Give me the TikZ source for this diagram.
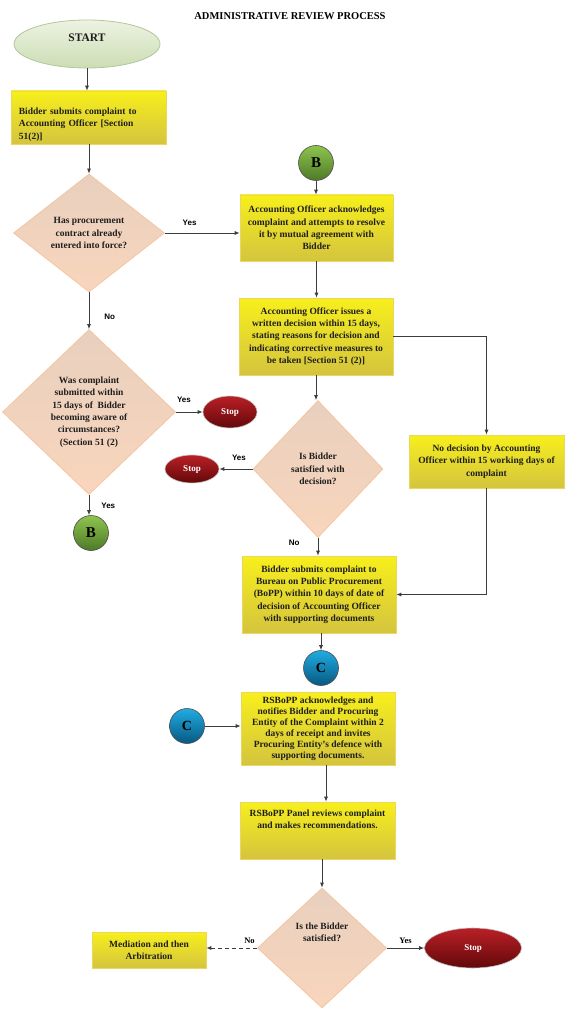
\documentclass[tikz,border=0pt]{standalone}
\usepackage{fontspec}
\setmainfont{Liberation Serif}
\newfontfamily\lblsans{Liberation Sans}
\usetikzlibrary{shapes.geometric,arrows.meta,shadows}

\definecolor{ytop}{RGB}{247,239,28}
\definecolor{ybot}{RGB}{212,196,62}
\definecolor{yedge}{RGB}{236,214,96}
\definecolor{dtop}{RGB}{232,208,190}
\definecolor{dbot}{RGB}{249,213,188}
\definecolor{dedge}{RGB}{244,198,162}
\definecolor{gtop}{RGB}{236,243,226}
\definecolor{gbot}{RGB}{204,221,180}
\definecolor{gedge}{RGB}{178,198,158}
\definecolor{btop}{RGB}{142,196,78}
\definecolor{bbot}{RGB}{78,122,40}
\definecolor{ctop}{RGB}{32,172,226}
\definecolor{cbot}{RGB}{8,88,128}
\definecolor{rtop}{RGB}{186,32,38}
\definecolor{rbot}{RGB}{98,8,10}
\definecolor{linec}{RGB}{60,60,60}
\definecolor{txtc}{RGB}{30,30,30}

\tikzset{
  boxtext/.style={align=center, inner sep=0pt, text=txtc, font=\bfseries\fontsize{9.5}{12.3}\selectfont},
  proc/.style={rectangle, draw=yedge, line width=0.6pt, top color=ytop, bottom color=ybot,
    minimum width=154, inner sep=2pt, boxtext,
    drop shadow={shadow xshift=0.8pt, shadow yshift=-1.2pt, fill=orange!45, opacity=0.6}},
  ask/.style={diamond, aspect=1.2, draw=dedge, line width=0.8pt, top color=dtop, bottom color=dbot,
    inner sep=0pt, boxtext},
  startnode/.style={ellipse, draw=gedge, line width=0.8pt, top color=gtop, bottom color=gbot,
    inner sep=0pt, text=txtc, font=\bfseries\fontsize{11.5}{13}\selectfont},
  stopnode/.style={ellipse, draw=gray!50, line width=0.6pt, top color=rtop, bottom color=rbot,
    inner sep=0pt, text=white, font=\bfseries\fontsize{9}{10}\selectfont},
  conn/.style={circle, minimum size=35, inner sep=0pt, draw=black!70, line width=0.6pt},
  gconn/.style={conn, top color=btop, bottom color=bbot, font=\bfseries\fontsize{15}{16}\selectfont},
  bconn/.style={conn, top color=ctop, bottom color=cbot, font=\bfseries\fontsize{14}{16}\selectfont},
  flow/.style={draw=linec, line width=0.8pt, -{Latex[length=5pt,width=4pt]}},
  yn/.style={inner sep=1pt, font=\lblsans\bfseries\fontsize{8}{9}\selectfont},
  ynserif/.style={inner sep=1pt, font=\bfseries\fontsize{8.5}{9}\selectfont},
}

\begin{document}
\begin{tikzpicture}[x=1pt,y=-1pt]
  \useasboundingbox (0,0) rectangle (566,1024);

  \node[font=\bfseries\fontsize{10.5}{12}\selectfont] (title) at (290,16) {ADMINISTRATIVE REVIEW PROCESS};

  % first complaint to the Accounting Officer
  \node[startnode, minimum width=146, minimum height=48] (start) at (87,44) {\raisebox{2pt}[0pt][0pt]{START}};
  \node[proc, minimum width=155, minimum height=53] (sub) at (88.5,117.5) {};
  \node[boxtext, text width=140, align=left, anchor=west] (subtxt) at ([xshift=8pt,yshift=-7pt]sub.west)
    {Bidder submits complaint to\\Accounting Officer [Section\\51(2)]};
  \node[ask, minimum width=151, minimum height=118] (inforce) at (89,233)
    {Has procurement\\contract already\\entered into force?};
  \node[ask, minimum width=173, minimum height=165] (intime) at (89,412)
    {Was complaint\\submitted within\\15 days of~ Bidder\\becoming aware of\\circumstances?\\(Section 51 (2)};
  \node[stopnode, minimum width=54, minimum height=32] (stopa) at (230,412) {Stop};
  \node[gconn] (b2) at (91,533) {B};

  % Accounting Officer decision
  \node[gconn] (b1) at (316,163) {B};
  \node[proc, minimum width=153, minimum height=66] (ack) at (316.5,228)
    {Accounting Officer acknowledges\\complaint and attempts to resolve\\it by mutual agreement with\\Bidder};
  \node[proc, minimum height=77] (issue) at (316,336.5)
    {Accounting Officer issues a\\written decision within 15 days,\\stating reasons for decision and\\indicating corrective measures to\\be taken [Section 51 (2)]};
  \node[proc, minimum width=155, minimum height=53] (nodec) at (486.5,461.5)
    {No decision by Accounting\\Officer within 15 working days of\\complaint};
  \node[ask, minimum width=130, minimum height=137] (satis) at (318,469)
    {Is Bidder\\satisfied with\\decision?};
  \node[stopnode, minimum width=54, minimum height=28] (stopb) at (192,469) {Stop};

  % complaint to the Bureau
  \node[proc, minimum height=77] (bopp) at (319,594.5)
    {Bidder submits complaint to\\Bureau on Public Procurement\\(BoPP) within 10 days of date of\\decision of Accounting Officer\\with supporting documents};
  \node[bconn] (c1) at (321,668) {C};
  \node[bconn] (c2) at (187,726) {C};
  \node[proc, minimum height=73, font=\bfseries\fontsize{9.5}{11.1}\selectfont] (notify) at (318,728.5)
    {RSBoPP acknowledges and\\notifies Bidder and Procuring\\Entity of the Complaint within 2\\days of receipt and invites\\Procuring Entity's defence with\\supporting documents.};
  \node[proc, minimum width=155, minimum height=57] (panel) at (317.5,830.5) {};
  \node[boxtext] (paneltxt) at ([yshift=11pt]panel.center)
    {RSBoPP Panel reviews complaint\\and makes recommendations.};
  \node[ask, minimum width=129, minimum height=120] (final) at (322,948) {};
  \node[boxtext] (finaltxt) at ([yshift=16pt]final.center) {Is the Bidder\\satisfied?};
  \node[proc, minimum width=114, minimum height=36] (med) at (149,950) {Mediation and then\\Arbitration};
  \node[stopnode, minimum width=97, minimum height=40] (stopc) at (473,948) {Stop};

  % connectors
  \draw[flow] (start.south) -- (start.south |- sub.north);
  \draw[flow] (sub.south -| inforce.north) -- (inforce.north);
  \draw[flow] (inforce.east) -- (inforce.east -| ack.west) node[yn, pos=0.33, above=6pt] {Yes};
  \draw[flow] (inforce.south) -- (intime.north) node[yn, pos=0.66, right=14pt] {No};
  \draw[flow] (intime.east) -- (stopa.west) node[yn, pos=0.3, above=8pt] {Yes};
  \draw[flow] (intime.south) -- (intime.south |- b2.north) node[yn, pos=0.55, right=11pt] {Yes};
  \draw[flow] (b1) -- (b1 |- ack.north);
  \draw[flow] (ack.south) -- (ack.south |- issue.north);
  \draw[flow] (issue.east) -| (nodec.north);
  \draw[flow] (nodec.south) |- (bopp.east);
  \draw[flow] (issue.south) -- (issue.south |- satis.north);
  \draw[flow] (satis.west) -- (stopb.east) node[yn, pos=0.41, above=7pt] {Yes};
  \draw[flow] (satis.south) -- (satis.south |- bopp.north) node[yn, pos=0.3, left=17pt] {No};
  \draw[flow] (bopp.south -| c1.north) -- (c1.north);
  \draw[flow] (c2.east) -- (c2.east -| notify.west);
  \draw[flow] ([xshift=8pt]notify.south) -- ([xshift=8pt]notify.south |- panel.north);
  \draw[flow] (panel.south -| final.north) -- (final.north);
  \draw[flow, dash pattern=on 4pt off 3pt] (final.west) -- (final.west -| med.east) node[ynserif, pos=0.15, above=3pt] {No};
  \draw[flow] (final.east) -- (stopc.west) node[ynserif, midway, above=3pt] {Yes};
\end{tikzpicture}
\end{document}
